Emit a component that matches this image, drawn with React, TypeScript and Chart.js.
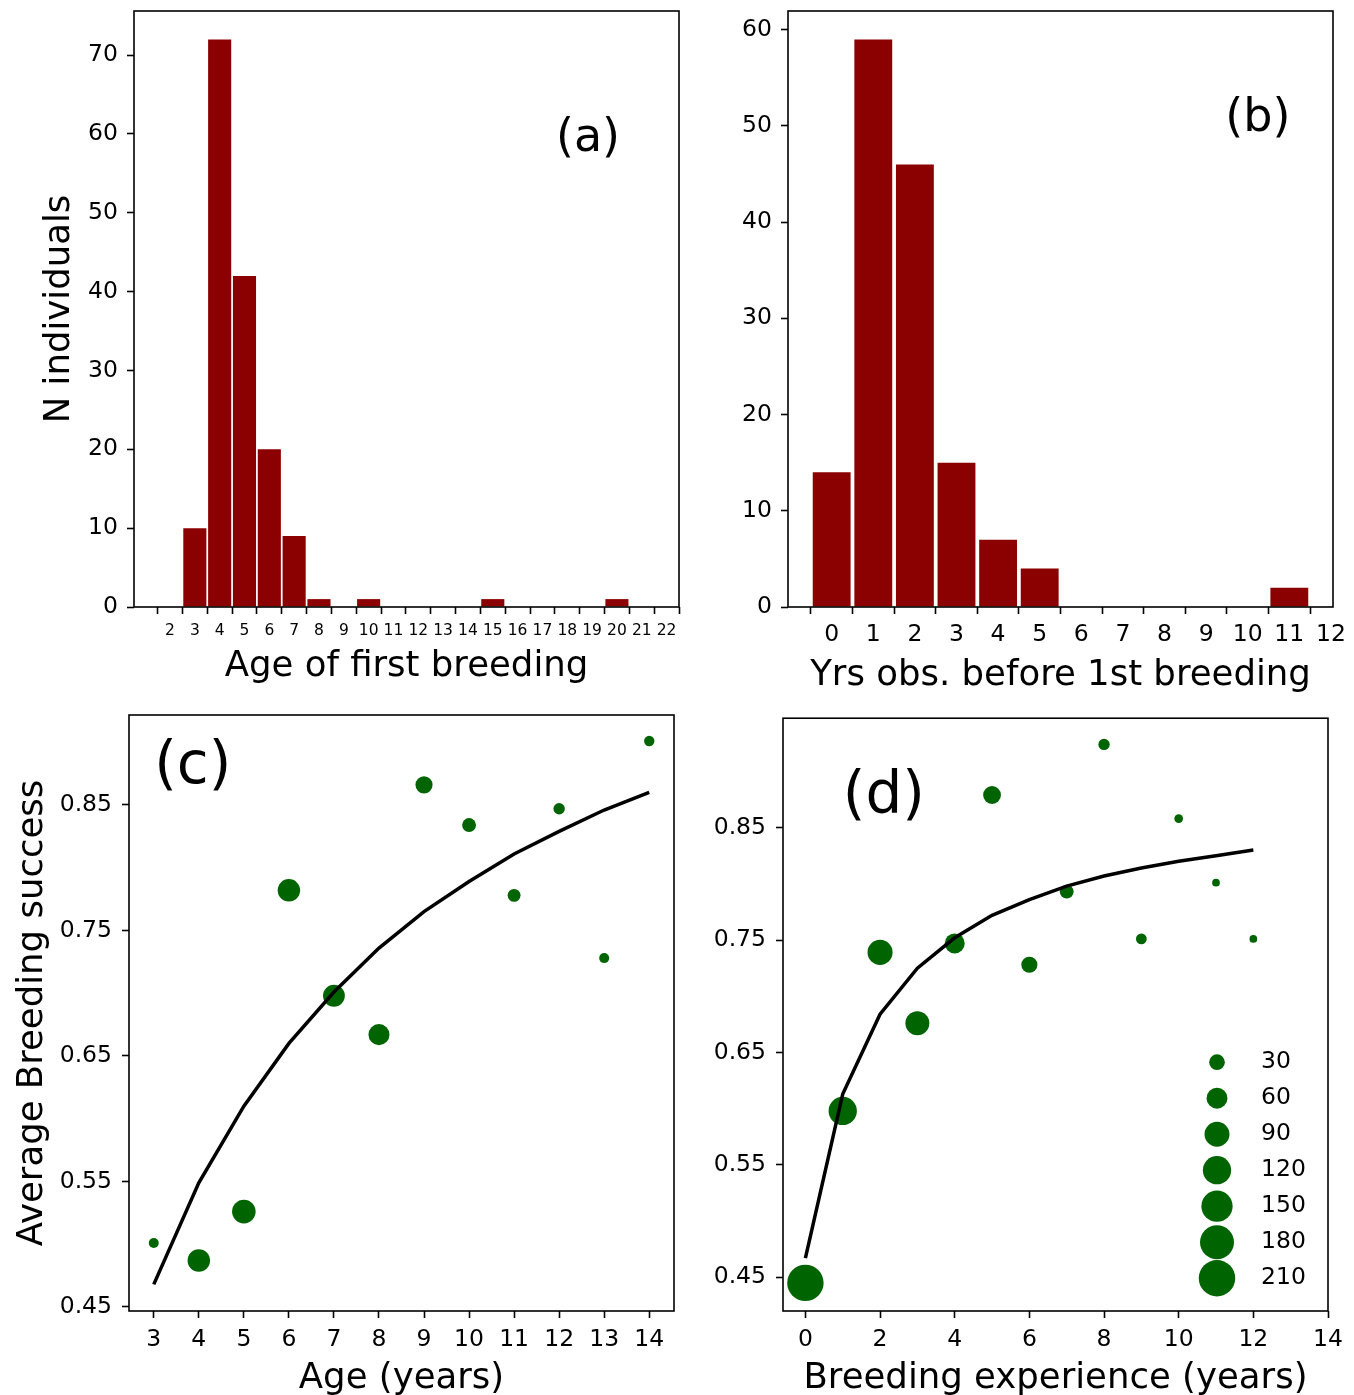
import React, { useEffect, useRef } from 'react';
import { Chart, registerables } from 'chart.js';

Chart.register(...registerables);

const FONT = "'DejaVu Sans', sans-serif";
const BAR_RED = '#8b0000';
const DOT_GREEN = '#006400';

// ---------- (a) age of first breeding ----------
const ageFirstBreeding = [3, 4, 5, 6, 7, 8, 10, 15, 20];
const nIndividualsA = [10, 72, 42, 20, 9, 1, 1, 1, 1];
const aXTicks = [2, 3, 4, 5, 6, 7, 8, 9, 10, 11, 12, 13, 14, 15, 16, 17, 18, 19, 20, 21, 22];
const aYTicks = [0, 10, 20, 30, 40, 50, 60, 70];

// ---------- (b) years observed before first breeding ----------
const yrsObserved = [0, 1, 2, 3, 4, 5, 11];
const nIndividualsB = [14, 59, 46, 15, 7, 4, 2];
const bXTicks = [0, 1, 2, 3, 4, 5, 6, 7, 8, 9, 10, 11, 12];
const bYTicks = [0, 10, 20, 30, 40, 50, 60];

// ---------- (c) breeding success by age ----------
const ageYears = [3, 4, 5, 6, 7, 8, 9, 10, 11, 12, 13, 14];
const ageSuccess = [0.501, 0.487, 0.526, 0.782, 0.698, 0.667, 0.866, 0.834, 0.778, 0.847, 0.728, 0.901];
const ageSampleSize = [9, 71, 79, 71, 66, 61, 37, 22, 18, 13, 9, 10];
const ageFit = [0.468, 0.549, 0.61, 0.66, 0.701, 0.736, 0.765, 0.789, 0.811, 0.829, 0.846, 0.86];
const cXTicks = [3, 4, 5, 6, 7, 8, 9, 10, 11, 12, 13, 14];
const cYTicks = [0.45, 0.55, 0.65, 0.75, 0.85];

// ---------- (d) breeding success by experience ----------
const experienceYears = [0, 1, 2, 3, 4, 5, 6, 7, 8, 9, 10, 11, 12];
const expSuccess = [0.445, 0.598, 0.739, 0.676, 0.747, 0.879, 0.728, 0.793, 0.924, 0.751, 0.858, 0.801, 0.751];
const expSampleSize = [210, 120, 91, 82, 54, 41, 32, 22, 13, 11, 6, 4, 4];
const expFit = [0.467, 0.613, 0.684, 0.725, 0.752, 0.772, 0.786, 0.798, 0.807, 0.814, 0.82, 0.825, 0.83];
const dXTicks = [0, 2, 4, 6, 8, 10, 12, 14];
const dYTicks = [0.45, 0.55, 0.65, 0.75, 0.85];
const legendSizes = [30, 60, 90, 120, 150, 180, 210];

// marker area (matplotlib "s") -> radius in px
const sizeToRadius = (s: number) => 1.55 + 1.15 * Math.sqrt(s);

const framePlugin = {
  id: 'frame',
  afterDatasetsDraw(chart: any) {
    const { ctx, chartArea } = chart;
    const { left, top, right, bottom } = chartArea;
    ctx.save();
    ctx.strokeStyle = '#000';
    ctx.lineWidth = 1.6;
    ctx.strokeRect(left, top, right - left, bottom - top);
    ctx.restore();
  },
};

const panelLabelPlugin = {
  id: 'panelLabel',
  afterDraw(chart: any, _args: any, opts: any) {
    if (!opts || !opts.text) return;
    const { ctx, chartArea } = chart;
    const x = chartArea.left + opts.fx * (chartArea.right - chartArea.left);
    const y = chartArea.top + opts.fy * (chartArea.bottom - chartArea.top);
    ctx.save();
    ctx.fillStyle = '#000';
    ctx.font = `${opts.size}px ${FONT}`;
    ctx.textAlign = 'center';
    ctx.textBaseline = 'middle';
    ctx.fillText(opts.text, x, y);
    ctx.restore();
  },
};

const sizeLegendPlugin = {
  id: 'sizeLegend',
  afterDraw(chart: any, _args: any, opts: any) {
    if (!opts || !opts.sizes) return;
    const { ctx, chartArea } = chart;
    const cx = chartArea.right - opts.fromRight;
    ctx.save();
    opts.sizes.forEach((s: number, i: number) => {
      const cy = chartArea.top + opts.fromTop + i * opts.step;
      ctx.beginPath();
      ctx.fillStyle = DOT_GREEN;
      ctx.arc(cx, cy, sizeToRadius(s), 0, Math.PI * 2);
      ctx.fill();
      ctx.fillStyle = '#000';
      ctx.font = `${opts.fontSize}px ${FONT}`;
      ctx.textAlign = 'left';
      ctx.textBaseline = 'middle';
      ctx.fillText(String(s), cx + opts.textGap, cy);
    });
    ctx.restore();
  },
};

type AxisOpts = {
  min: number;
  max: number;
  ticks: number[];
  size: number;
  fontSize: number;
  padding: number;
  fmt?: (v: number) => string;
  title?: string;
  titlePad?: number;
};

function axis(horizontal: boolean, o: AxisOpts) {
  return {
    type: 'linear',
    position: horizontal ? 'bottom' : 'left',
    min: o.min,
    max: o.max,
    offset: false,
    afterBuildTicks: (s: any) => {
      s.ticks = o.ticks.map((v) => ({ value: v }));
    },
    afterFit: (s: any) => {
      if (horizontal) s.height = o.size;
      else s.width = o.size;
      s.paddingTop = 0;
      s.paddingBottom = 0;
      s.paddingLeft = 0;
      s.paddingRight = 0;
    },
    grid: {
      display: true,
      drawOnChartArea: false,
      drawTicks: true,
      tickLength: 7,
      tickWidth: 1.6,
      tickColor: '#000',
      color: '#000',
    },
    border: { display: false },
    ticks: {
      color: '#000',
      padding: o.padding,
      maxRotation: 0,
      minRotation: 0,
      autoSkip: false,
      font: { family: FONT, size: o.fontSize },
      callback: (v: any) => (o.fmt ? o.fmt(Number(v)) : String(v)),
    },
    title: o.title
      ? {
          display: true,
          text: o.title,
          color: '#000',
          font: { family: FONT, size: 35.5, lineHeight: 1 },
          padding: horizontal ? { top: 0, bottom: o.titlePad } : { top: o.titlePad, bottom: 0 },
        }
      : { display: false },
  };
}

type PanelSpec = {
  left: number;
  top: number;
  width: number;
  height: number;
  plot: { left: number; top: number; right: number; bottom: number };
  build: (plot: PanelSpec['plot'], w: number, h: number) => any;
};

function Panel({ spec }: { spec: PanelSpec }) {
  const ref = useRef<HTMLCanvasElement>(null);
  useEffect(() => {
    const cfg = spec.build(spec.plot, spec.width, spec.height);
    const chart = new Chart(ref.current as HTMLCanvasElement, cfg);
    return () => chart.destroy();
  }, []);
  return (
    <div style={{ position: 'absolute', left: spec.left, top: spec.top, width: spec.width, height: spec.height }}>
      <canvas ref={ref} width={spec.width} height={spec.height} style={{ display: 'block' }} />
    </div>
  );
}

const baseOptions = (plot: any, w: number) => ({
  responsive: false,
  animation: false,
  devicePixelRatio: 1,
  layout: { padding: { left: 0, top: plot.top, right: w - plot.right, bottom: 0 } },
});

const noPlugins = {
  legend: { display: false },
  tooltip: { enabled: false },
};

const TICK_FONT = 23.5;

const panels: PanelSpec[] = [
  {
    left: 0,
    top: 0,
    width: 690,
    height: 700,
    plot: { left: 134, top: 11, right: 679, bottom: 607 },
    build: (p, w, h) => ({
      type: 'bar',
      data: {
        datasets: [
          {
            data: ageFirstBreeding.map((x, i) => ({ x, y: nIndividualsA[i] })),
            backgroundColor: BAR_RED,
            borderWidth: 0,
            barPercentage: 0.93,
            categoryPercentage: 1,
          },
        ],
      },
      options: {
        ...baseOptions(p, w),
        scales: {
          x: axis(true, { min: 0.55, max: 22.5, ticks: aXTicks, size: h - p.bottom, fontSize: 15.5, padding: 8, title: 'Age of first breeding', titlePad: 15 }),
          y: axis(false, { min: 0, max: 75.6, ticks: aYTicks, size: p.left, fontSize: TICK_FONT, padding: 9, title: 'N individuals', titlePad: 42 }),
        },
        plugins: { ...noPlugins, panelLabel: { text: '(a)', fx: 0.833, fy: 0.215, size: 46 } },
      },
      plugins: [framePlugin, panelLabelPlugin],
    }),
  },
  {
    left: 690,
    top: 0,
    width: 664,
    height: 700,
    plot: { left: 98, top: 11, right: 643, bottom: 607 },
    build: (p, w, h) => ({
      type: 'bar',
      data: {
        datasets: [
          {
            data: yrsObserved.map((x, i) => ({ x, y: nIndividualsB[i] })),
            backgroundColor: BAR_RED,
            borderWidth: 0,
            barPercentage: 0.91,
            categoryPercentage: 1,
          },
        ],
      },
      options: {
        ...baseOptions(p, w),
        scales: {
          x: axis(true, { min: -1.05, max: 12.05, ticks: bXTicks, size: h - p.bottom, fontSize: TICK_FONT, padding: 7, title: 'Yrs obs. before 1st breeding', titlePad: 6 }),
          y: axis(false, { min: 0, max: 61.95, ticks: bYTicks, size: p.left, fontSize: TICK_FONT, padding: 9 }),
        },
        plugins: { ...noPlugins, panelLabel: { text: '(b)', fx: 0.862, fy: 0.181, size: 46 } },
      },
      plugins: [framePlugin, panelLabelPlugin],
    }),
  },
  {
    left: 0,
    top: 700,
    width: 690,
    height: 695,
    plot: { left: 129, top: 15, right: 674, bottom: 611 },
    build: (p, w, h) => ({
      type: 'scatter',
      data: {
        datasets: [
          {
            data: ageYears.map((x, i) => ({ x, y: ageFit[i] })),
            showLine: true,
            borderColor: '#000',
            borderWidth: 3.5,
            pointRadius: 0,
            tension: 0,
          },
          {
            data: ageYears.map((x, i) => ({ x, y: ageSuccess[i] })),
            backgroundColor: DOT_GREEN,
            borderWidth: 0,
            pointRadius: (ctx: any) => sizeToRadius(ageSampleSize[ctx.dataIndex] ?? 0),
          },
        ],
      },
      options: {
        ...baseOptions(p, w),
        scales: {
          x: axis(true, { min: 2.45, max: 14.55, ticks: cXTicks, size: h - p.bottom, fontSize: TICK_FONT, padding: 8, title: 'Age (years)', titlePad: -2 }),
          y: axis(false, { min: 0.4468, max: 0.9217, ticks: cYTicks, size: p.left, fontSize: TICK_FONT, padding: 10, fmt: (v) => v.toFixed(2), title: 'Average Breeding success', titlePad: 15 }),
        },
        plugins: { ...noPlugins, panelLabel: { text: '(c)', fx: 0.117, fy: 0.089, size: 58 } },
      },
      plugins: [framePlugin, panelLabelPlugin],
    }),
  },
  {
    left: 690,
    top: 700,
    width: 664,
    height: 695,
    plot: { left: 93, top: 15, right: 638, bottom: 611 },
    build: (p, w, h) => ({
      type: 'scatter',
      data: {
        datasets: [
          {
            data: experienceYears.map((x, i) => ({ x, y: expFit[i] })),
            showLine: true,
            borderColor: '#000',
            borderWidth: 3.5,
            pointRadius: 0,
            tension: 0,
          },
          {
            data: experienceYears.map((x, i) => ({ x, y: expSuccess[i] })),
            backgroundColor: DOT_GREEN,
            borderWidth: 0,
            pointRadius: (ctx: any) => sizeToRadius(expSampleSize[ctx.dataIndex] ?? 0),
          },
        ],
      },
      options: {
        ...baseOptions(p, w),
        scales: {
          x: axis(true, { min: -0.6, max: 14, ticks: dXTicks, size: h - p.bottom, fontSize: TICK_FONT, padding: 8, title: 'Breeding experience (years)', titlePad: -2 }),
          y: axis(false, { min: 0.42, max: 0.9473, ticks: dYTicks, size: p.left, fontSize: TICK_FONT, padding: 10, fmt: (v) => v.toFixed(2) }),
        },
        plugins: {
          ...noPlugins,
          panelLabel: { text: '(d)', fx: 0.185, fy: 0.134, size: 58 },
          sizeLegend: { sizes: legendSizes, fromRight: 111, fromTop: 344, step: 36, textGap: 44, fontSize: TICK_FONT },
        },
      },
      plugins: [framePlugin, panelLabelPlugin, sizeLegendPlugin],
    }),
  },
];

export default function App() {
  return (
    <div style={{ position: 'absolute', left: 0, top: 0, width: 1354, height: 1395, background: '#fff', overflow: 'hidden' }}>
      {panels.map((s, i) => (
        <Panel key={i} spec={s} />
      ))}
    </div>
  );
}
